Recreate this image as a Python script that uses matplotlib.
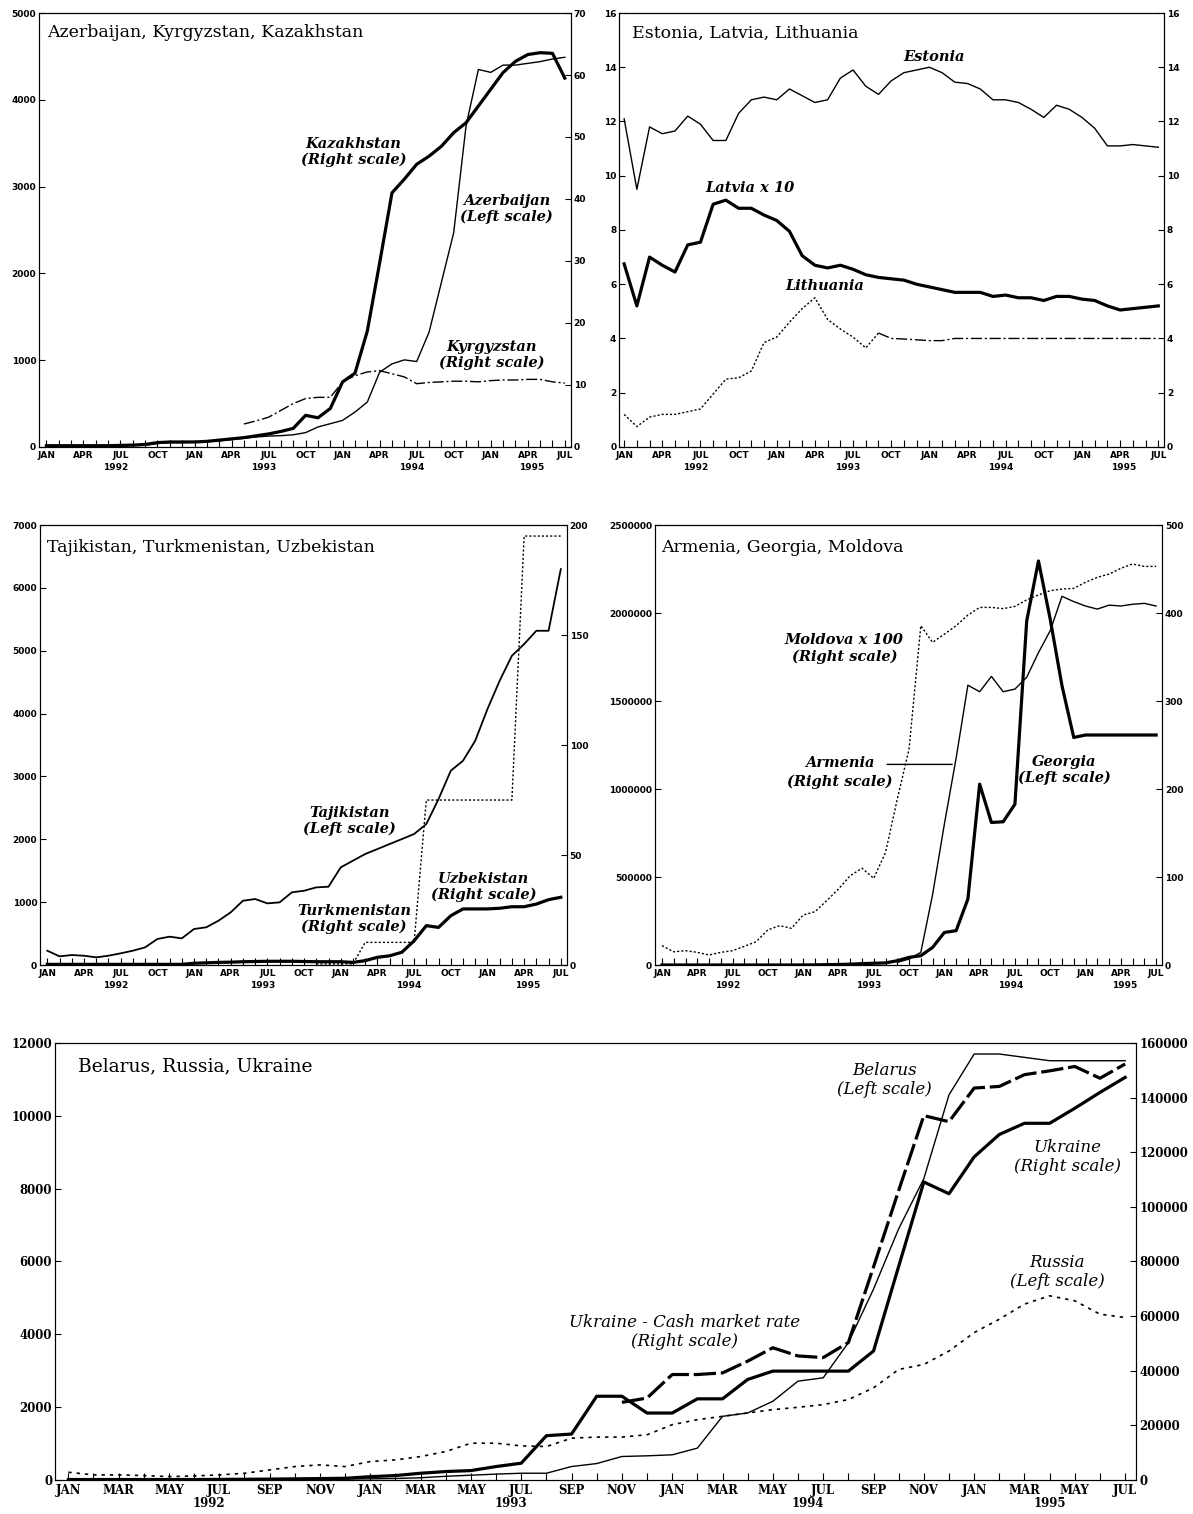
import matplotlib.pyplot as plt
import numpy as np

nan = np.nan
months = np.arange(43)  # Jan 1992 .. Jul 1995

# --- Azerbaijan, Kyrgyzstan, Kazakhstan ---
azerbaijan = [10, 10, 10, 10, 10, 12, 12, 15, 20, 40, 50, 50,
              55, 60, 70, 85, 100, 115, 125, 130, 140, 165, 230, 268,
              306, 402, 517, 862, 957, 1003, 984, 1321, 1895, 2470, 3700, 4350,
              4316, 4400, 4400, 4420, 4440, 4470, 4490]
kazakhstan = [0.2, 0.2, 0.2, 0.2, 0.2, 0.2, 0.25, 0.3, 0.4, 0.7, 0.8, 0.8,
              0.8, 0.9, 1.1, 1.3, 1.5, 1.8, 2.1, 2.5, 3.0, 5.1, 4.7, 6.2,
              10.5, 11.9, 18.7, 29.7, 41.0, 43.2, 45.6, 46.9, 48.5, 50.7, 52.3, 55.0,
              57.7, 60.4, 62.2, 63.3, 63.6, 63.5, 59.5]
kyrgyzstan = [nan, nan, nan, nan, nan, nan, nan, nan, nan, nan, nan, nan,
              nan, nan, nan, nan, 3.7, 4.2, 4.8, 5.9, 7.0, 7.8, 8.0, 8.0,
              10.5, 11.5, 12.1, 12.3, 11.8, 11.3, 10.2, 10.4, 10.5, 10.6, 10.6, 10.5,
              10.7, 10.8, 10.8, 10.9, 10.9, 10.5, 10.3]

# --- Estonia, Latvia, Lithuania ---
estonia = [12.1, 9.5, 11.8, 11.55, 11.65, 12.2, 11.9, 11.3, 11.3, 12.3, 12.8, 12.9,
           12.8, 13.2, 12.95, 12.7, 12.8, 13.6, 13.9, 13.3, 13.0, 13.5, 13.8, 13.9,
           14.0, 13.8, 13.45, 13.4, 13.2, 12.8, 12.8, 12.7, 12.45, 12.15, 12.6, 12.45,
           12.15, 11.75, 11.1, 11.1, 11.15, 11.1, 11.05]
latvia_x10 = [6.75, 5.2, 7.0, 6.7, 6.45, 7.45, 7.55, 8.95, 9.1, 8.8, 8.8, 8.55,
              8.35, 7.95, 7.05, 6.7, 6.6, 6.7, 6.55, 6.35, 6.25, 6.2, 6.15, 6.0,
              5.9, 5.8, 5.7, 5.7, 5.7, 5.55, 5.6, 5.5, 5.5, 5.4, 5.55, 5.55,
              5.45, 5.4, 5.2, 5.05, 5.1, 5.15, 5.2]
lithuania = [1.2, 0.75, 1.1, 1.2, 1.2, 1.3, 1.4, 1.95, 2.5, 2.55, 2.8, 3.85,
             4.05, 4.6, 5.1, 5.5, 4.7, 4.35, 4.05, 3.65, 4.2, 4.0, 3.98, 3.95,
             3.92, 3.92, 4.0, 4.0, 4.0, 4.0, 4.0, 4.0, 4.0, 4.0, 4.0, 4.0,
             4.0, 4.0, 4.0, 4.0, 4.0, 4.0, 4.0]

# --- Tajikistan, Turkmenistan, Uzbekistan ---
tajikistan = [228, 138, 159, 148, 122, 148, 186, 228, 281, 414, 451, 424,
              573, 600, 705, 838, 1023, 1050, 981, 997, 1156, 1182, 1235, 1246,
              1554, 1660, 1766, 1845, 1925, 2004, 2084, 2243, 2640, 3091, 3250, 3568,
              4072, 4523, 4920, 5106, 5318, 5318, 6299]
turkmenistan = [nan, nan, nan, nan, nan, nan, nan, nan, nan, nan, nan, nan,
                nan, nan, nan, nan, nan, nan, nan, nan, nan, nan, 0.5, 0.5,
                0.5, 0.5, 10.3, 10.3, 10.3, 10.3, 10.3, 75, 75, 75, 75, 75,
                75, 75, 75, 195, 195, 195, 195]
uzbekistan = [0.3, 0.3, 0.3, 0.3, 0.3, 0.3, 0.3, 0.3, 0.3, 0.3, 0.3, 0.3,
              0.8, 1.0, 1.2, 1.3, 1.5, 1.6, 1.7, 1.7, 1.7, 1.6, 1.5, 1.5,
              1.5, 1.2, 2.0, 3.5, 4.2, 5.8, 11.0, 17.9, 17.1, 22.4, 25.5, 25.5,
              25.5, 25.8, 26.5, 26.5, 27.7, 29.7, 30.8]

# --- Armenia, Georgia, Moldova ---
moldova_x100 = [22, 15, 16.3, 14.4, 11.4, 14.4, 16.3, 21.2, 26.5, 40, 44.7, 41.7,
                56.8, 60.6, 73.1, 86.4, 101.5, 110, 98.5, 128, 188.6, 245.5, 385.6, 366.7,
                376, 385.6, 397.7, 406.4, 406.4, 405, 407.6, 415, 420.5, 425.4, 427.3, 428,
                435, 440.5, 444.3, 450.8, 455.7, 453, 453]
armenia = [nan, nan, nan, nan, nan, nan, nan, nan, nan, nan, nan, nan,
           nan, nan, nan, nan, nan, nan, nan, nan, 3, 6.8, 14.4, 80,
           160, 235, 318, 310.6, 328, 310.6, 313.6, 327, 355, 380, 419, 413,
           408, 404.5, 409, 408, 410, 411, 408]
georgia = [200, 200, 200, 200, 200, 200, 200, 200, 200, 200, 200, 200,
           500, 1000, 2000, 3000, 5000, 8000, 10000, 12000, 24600, 43500, 53000, 100000,
           185000, 195000, 375000, 1028000, 810000, 814000, 914000, 1955000, 2296000,
           1965000, 1587000, 1293000,
           1307000, 1307000, 1307000, 1307000, 1307000, 1307000, 1307000]

# --- Belarus, Russia, Ukraine ---
belarus = [10, 10, 10, 15, 15, 15, 15, 15, 20, 20, 25, 25,
           30, 40, 60, 100, 130, 160, 184, 184, 368, 450, 644, 662,
           690, 874, 1747, 1839, 2161, 2713, 2805, 3770, 5241, 6897, 8276, 10575,
           11697, 11697, 11605, 11513, 11513, 11513, 11513]
russia = [211, 138, 138, 120, 92, 110, 138, 183, 275, 367, 413, 367,
          505, 550, 642, 780, 1009, 1009, 936, 917, 1147, 1177, 1177, 1241,
          1517, 1655, 1747, 1839, 1931, 1995, 2069, 2207, 2529, 3034, 3172, 3540,
          4046, 4414, 4828, 5057, 4920, 4552, 4460]
ukraine = [150, 150, 150, 150, 150, 150, 200, 250, 300, 400, 500, 600,
           1200, 1600, 2450, 3070, 3430, 4900, 6130, 16200, 16800, 30650, 30650, 24500,
           24500, 29700, 29700, 36800, 39850, 39850, 39850, 39850, 47200, 78200, 109100, 104800,
           118300, 126500, 130600, 130600, 136100, 141900, 147400]
ukraine_cash = [nan, nan, nan, nan, nan, nan, nan, nan, nan, nan, nan, nan,
                nan, nan, nan, nan, nan, nan, nan, nan, nan, nan, 28400, 30000,
                38600, 38600, 39200, 43500, 48400, 45400, 44800, 50300, 78000, 106000, 133400, 131200,
                143500, 144100, 148400, 149800, 151400, 147100, 152300]

quarter_names = ['JAN', 'APR', 'JUL', 'OCT']
bimonth_names = ['JAN', 'MAR', 'MAY', 'JUL', 'SEP', 'NOV']
years = ['1992', '1993', '1994', '1995']

THICK = 2.3
THIN = 1.0
DOTTED = (0, (1.5, 1.5))
DASHDOT = (0, (8, 2, 1.5, 2))

small_tick = dict(family='DejaVu Sans', weight='bold', size=6.5)
big_tick = dict(family='DejaVu Serif', weight='bold', size=8.5)


def time_axis(ax, step, names, year_pos, font, year_off):
    ax.set_xlim(-0.6, 42.5)
    ax.set_xticks(months, minor=True)
    major = months[::step]
    ax.set_xticks(major)
    ax.set_xticklabels([names[i % len(names)] for i in range(len(major))], **font)
    ax.tick_params(axis='x', which='both', direction='in', length=5, width=0.8, pad=3)
    for m, yr in zip(year_pos, years):
        ax.text(m, -year_off, yr, transform=ax.get_xaxis_transform(),
                ha='center', va='center', **font)


def value_axis(ax, ticks, font):
    ax.set_ylim(ticks[0], ticks[-1])
    ax.set_yticks(ticks)
    ax.set_yticklabels([str(t) for t in ticks], **font)
    ax.tick_params(axis='y', direction='in', length=4, width=0.8, pad=2)


def title(ax, text, fx, fy, size=12.5):
    ax.text(fx, fy, text, transform=ax.transAxes, family='DejaVu Serif',
            size=size, ha='left', va='center')


def note(ax, x, y, text, size=10.5, weight='bold'):
    ax.text(x, y, text, ha='center', va='center', family='DejaVu Serif',
            style='italic', weight=weight, size=size, linespacing=1.2)


fig = plt.figure(figsize=(11.93, 15.14), dpi=100)

# Azerbaijan, Kyrgyzstan, Kazakhstan
ax = fig.add_axes([0.0327, 0.7048, 0.4459, 0.2866])
axr = ax.twinx()
ax.plot(months, azerbaijan, color='black', lw=THIN)
axr.plot(months, kazakhstan, color='black', lw=THICK)
axr.plot(months, kyrgyzstan, color='black', lw=THIN, linestyle=DASHDOT)
value_axis(ax, [0, 1000, 2000, 3000, 4000, 5000], small_tick)
value_axis(axr, [0, 10, 20, 30, 40, 50, 60, 70], small_tick)
time_axis(ax, 3, quarter_names, [5.6, 17.6, 29.6, 39.3], small_tick, 0.047)
title(ax, 'Azerbaijan, Kyrgyzstan, Kazakhstan', 0.015, 0.954)
note(ax, 24.9, 3400, 'Kazakhstan\n(Right scale)')
note(ax, 37.3, 2742, 'Azerbaijan\n(Left scale)')
note(ax, 36.1, 1060, 'Kyrgyzstan\n(Right scale)')

# Estonia, Latvia, Lithuania
ax = fig.add_axes([0.5189, 0.7048, 0.4568, 0.2866])
axr = ax.twinx()
ax.plot(months, estonia, color='black', lw=THIN)
ax.plot(months, latvia_x10, color='black', lw=THICK)
ax.plot(months[:21], lithuania[:21], color='black', lw=THIN, linestyle=DOTTED)
ax.plot(months[20:], lithuania[20:], color='black', lw=THIN, linestyle=DASHDOT)
value_axis(ax, [0, 2, 4, 6, 8, 10, 12, 14, 16], small_tick)
value_axis(axr, [0, 2, 4, 6, 8, 10, 12, 14, 16], small_tick)
time_axis(ax, 3, quarter_names, [5.6, 17.6, 29.6, 39.3], small_tick, 0.047)
ax.set_xlim(-0.4, 42.45)
title(ax, 'Estonia, Latvia, Lithuania', 0.024, 0.954)
note(ax, 24.4, 14.38, 'Estonia')
note(ax, 9.9, 9.55, 'Latvia x 10')
note(ax, 15.8, 5.94, 'Lithuania')

# Tajikistan, Turkmenistan, Uzbekistan
ax = fig.add_axes([0.0335, 0.3626, 0.4417, 0.2906])
axr = ax.twinx()
ax.plot(months, tajikistan, color='black', lw=1.3)
axr.plot(months, turkmenistan, color='black', lw=THIN, linestyle=DOTTED)
axr.plot(months, uzbekistan, color='black', lw=THICK)
value_axis(ax, [0, 1000, 2000, 3000, 4000, 5000, 6000, 7000], small_tick)
value_axis(axr, [0, 50, 100, 150, 200], small_tick)
time_axis(ax, 3, quarter_names, [5.6, 17.6, 29.6, 39.3], small_tick, 0.047)
title(ax, 'Tajikistan, Turkmenistan, Uzbekistan', 0.013, 0.95)
note(ax, 24.7, 2291, 'Tajikistan\n(Left scale)')
note(ax, 25.1, 732, 'Turkmenistan\n(Right scale)')
note(ax, 35.7, 1241, 'Uzbekistan\n(Right scale)')

# Armenia, Georgia, Moldova
ax = fig.add_axes([0.549, 0.3626, 0.425, 0.2906])
axr = ax.twinx()
axr.plot(months, moldova_x100, color='black', lw=THIN, linestyle=DOTTED)
axr.plot(months, armenia, color='black', lw=THIN)
ax.plot(months, georgia, color='black', lw=THICK)
value_axis(ax, [0, 500000, 1000000, 1500000, 2000000, 2500000], small_tick)
value_axis(axr, [0, 100, 200, 300, 400, 500], small_tick)
time_axis(ax, 3, quarter_names, [5.6, 17.6, 29.6, 39.3], small_tick, 0.047)
title(ax, 'Armenia, Georgia, Moldova', 0.012, 0.95)
note(ax, 15.5, 1.80e6, 'Moldova x 100\n(Right scale)')
note(ax, 15.1, 1.148e6, 'Armenia')
note(ax, 15.1, 1.040e6, '(Right scale)')
axr.annotate('', xy=(24.9, 228), xytext=(18.9, 228),
             arrowprops=dict(arrowstyle='-', lw=1.0, color='black'))
note(ax, 34.2, 1.108e6, 'Georgia\n(Left scale)')

# Belarus, Russia, Ukraine
ax = fig.add_axes([0.0461, 0.0225, 0.9065, 0.2886])
axr = ax.twinx()
ax.plot(months, belarus, color='black', lw=THIN)
ax.plot(months, russia, color='black', lw=1.2, linestyle=(0, (2, 3)))
axr.plot(months, ukraine, color='black', lw=THICK)
axr.plot(months, ukraine_cash, color='black', lw=THICK, linestyle=(0, (7, 1.5)))
value_axis(ax, [0, 2000, 4000, 6000, 8000, 10000, 12000], big_tick)
value_axis(axr, [0, 20000, 40000, 60000, 80000, 100000, 120000, 140000, 160000], big_tick)
time_axis(ax, 2, bimonth_names, [5.6, 17.6, 29.4, 39.0], big_tick, 0.053)
ax.set_xlim(-0.53, 42.45)
title(ax, 'Belarus, Russia, Ukraine', 0.021, 0.947, size=13.5)
note(ax, 32.45, 10984, 'Belarus\n(Left scale)', size=12, weight='normal')
note(ax, 39.7, 8870, 'Ukraine\n(Right scale)', size=12, weight='normal')
note(ax, 39.3, 5712, 'Russia\n(Left scale)', size=12, weight='normal')
note(ax, 24.5, 4064, 'Ukraine - Cash market rate\n(Right scale)', size=12, weight='normal')

fig.savefig('out.png', dpi=100)
